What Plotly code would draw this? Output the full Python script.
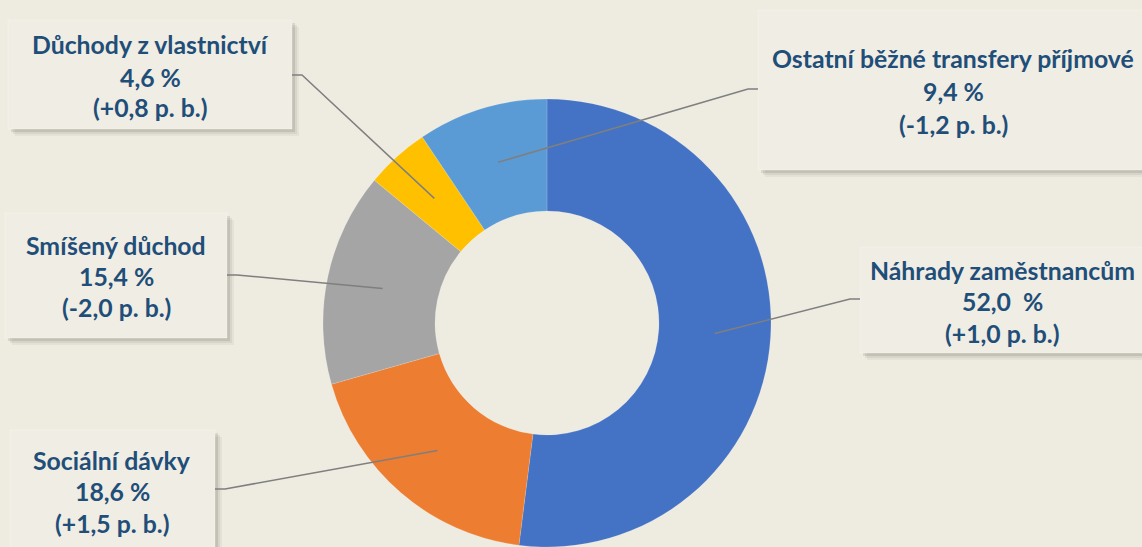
import math
import plotly.graph_objects as go

# ---- data ----
labels = ["Náhrady zaměstnancům", "Sociální dávky", "Smíšený důchod",
          "Důchody z vlastnictví", "Ostatní běžné transfery příjmové"]
values = [52.0, 18.6, 15.4, 4.6, 9.4]
value_labels = ["52,0\u00a0\u00a0%", "18,6 %", "15,4 %", "4,6 %", "9,4 %"]
changes = ["(+1,0 p. b.)", "(+1,5 p. b.)", "(-2,0 p. b.)", "(+0,8 p. b.)", "(-1,2 p. b.)"]
colors = ["#4472C4", "#ED7D31", "#A5A5A5", "#FFC000", "#5B9BD5"]

# ---- layout geometry (pixels) ----
W, H = 1142, 547
CX, CY, R = 547, 323, 224
HOLE = 0.5
BG = "#EEEBE1"
BOX = "#F0EDE4"
TXT = "#1F4E79"
LINE = "#7F7F7F"

def px(x):
    return x / W

def py(y):
    return 1 - y / H

boxes = [
    dict(rect=(860, 247, 1150, 353), tx=1002, ty=(270, 301, 333), anchor=(860, 299), elbow=(850, 299)),
    dict(rect=(10, 430, 215, 560), tx=112, ty=(460, 492, 523), anchor=(215, 489), elbow=(225, 489)),
    dict(rect=(5, 213, 227, 338), tx=116, ty=(245, 276, 307), anchor=(227, 275), elbow=(237, 275)),
    dict(rect=(8, 20, 292, 129), tx=150, ty=(45, 77, 108), anchor=(292, 75), elbow=(302, 75)),
    dict(rect=(758, 10, 1150, 170), tx=953, ty=(58, 92, 124), anchor=(758, 89), elbow=(748, 89)),
]

fig = go.Figure()
fig.add_trace(go.Pie(
    labels=labels, values=values, hole=HOLE, sort=False, direction="clockwise",
    rotation=0, textinfo="none", hoverinfo="label+percent",
    marker=dict(colors=colors, line=dict(color="rgba(255,255,255,0.25)", width=0.6)),
    domain=dict(x=[px(CX - R), px(CX + R)], y=[py(CY + R), py(CY - R)]),
    showlegend=False,
))

shapes = []
annotations = []
total = sum(values)
cum = 0.0
for i, v in enumerate(values):
    mid = (cum + v / 2) / total * 2 * math.pi
    cum += v
    rr = R * (1 + HOLE) / 2
    ex, ey = CX + rr * math.sin(mid), CY - rr * math.cos(mid)
    b = boxes[i]
    x0, y0, x1, y1 = b["rect"]
    for off, op in ((7, 0.05), (5, 0.08), (3, 0.12)):
        shapes.append(dict(type="rect", xref="paper", yref="paper",
                           x0=px(x0 + off), x1=px(x1 + off), y0=py(y0 + off), y1=py(y1 + off),
                           fillcolor=f"rgba(60,55,45,{op})", line=dict(width=0), layer="above"))
    shapes.append(dict(type="rect", xref="paper", yref="paper",
                       x0=px(x0), x1=px(x1), y0=py(y0), y1=py(y1),
                       fillcolor=BOX, line=dict(color="rgba(255,255,255,0.5)", width=0.5), layer="above"))
    ax, ay = b["anchor"]
    bx, by = b["elbow"]
    shapes.append(dict(type="path", xref="paper", yref="paper",
                       path=f"M {px(ax)} {py(ay)} L {px(bx)} {py(by)} L {px(ex)} {py(ey)}",
                       line=dict(color=LINE, width=1.5), layer="above"))
    for txt, yy in zip((labels[i], value_labels[i], changes[i]), b["ty"]):
        annotations.append(dict(xref="paper", yref="paper", x=px(b["tx"]), y=py(yy),
                                text=f"<b>{txt}</b>", showarrow=False,
                                xanchor="center", yanchor="middle",
                                font=dict(family="Lato", size=24.8, color=TXT)))

fig.update_layout(
    width=W, height=H, margin=dict(l=0, r=0, t=0, b=0),
    paper_bgcolor=BG, plot_bgcolor=BG,
    shapes=shapes, annotations=annotations,
)
fig.write_html("out.html", config={"displayModeBar": False},
               post_script="document.body.style.margin='0px';document.body.style.overflow='hidden';")
